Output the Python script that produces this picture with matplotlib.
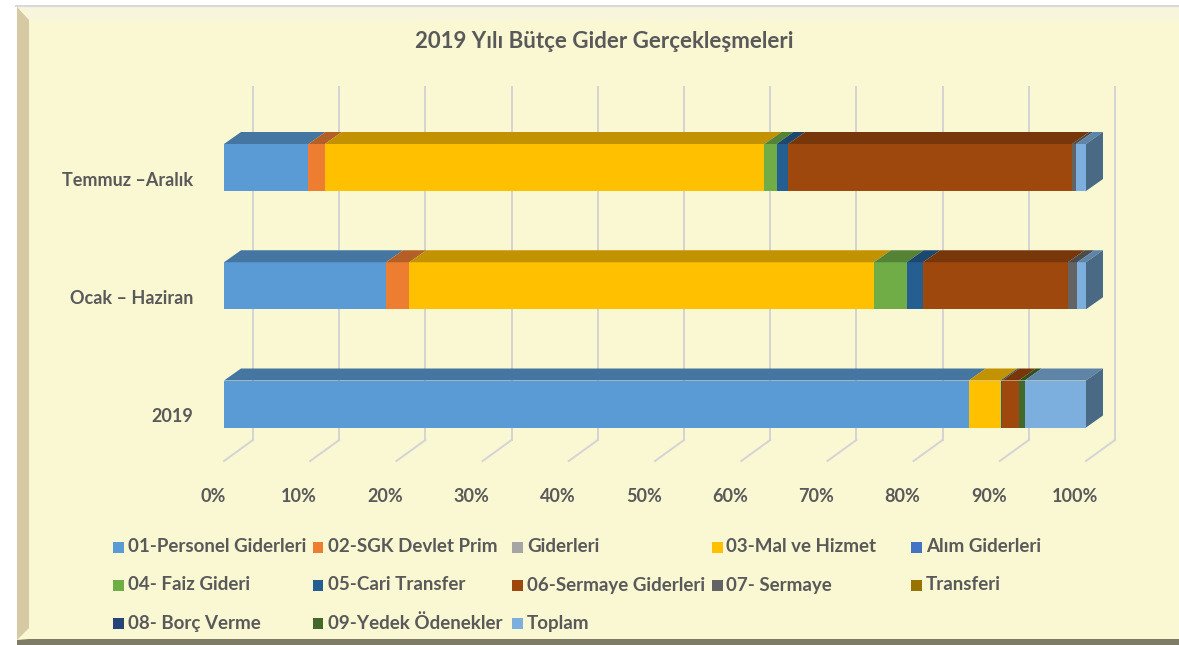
"""
2019 Yili Butce Gider Gerceklesmeleri - 3D style 100% stacked horizontal bars.
"""

import matplotlib
matplotlib.use('Agg')
import matplotlib.pyplot as plt
from matplotlib.patches import Polygon, Rectangle
from matplotlib.colors import to_rgb

W, H = 1179, 645

categories = ['2019', 'Ocak – Haziran', 'Temmuz –Aralık']

series_names = ['01-Personel Giderleri', '02-SGK Devlet Prim', 'Giderleri',
                '03-Mal ve Hizmet', 'Alım Giderleri', '04- Faiz Gideri',
                '05-Cari Transfer', '06-Sermaye Giderleri', '07- Sermaye',
                'Transferi', '08- Borç Verme', '09-Yedek Ödenekler', 'Toplam']

series_colors = ['#5B9BD5', '#ED7D31', '#A5A5A5', '#FFC000', '#4472C4',
                 '#70AD47', '#255E91', '#9E480E', '#636363', '#997300',
                 '#264478', '#43682B', '#7CAFDD']

# percent shares per row, in series order
vals_2019 = [86.4, 0, 0, 3.7, 0, 0, 0.2, 1.9, 0, 0, 0, 0.7, 7.1]
vals_ocak_haziran = [18.8, 2.7, 0, 53.9, 0, 3.8, 1.9, 16.8, 1.1, 0, 0, 0, 1.0]
vals_temmuz_aralik = [9.8, 1.9, 0, 51.0, 0, 1.4, 1.35, 32.95, 0.45, 0, 0, 0, 1.15]

row_values = [vals_2019, vals_ocak_haziran, vals_temmuz_aralik]
x_ticks = list(range(0, 101, 10))

TEXT = '#595959'
BG = '#FAF7D3'
FONT = 'Lato'


def shade(color, k):
    r, g, b = to_rgb(color)
    return (r * k, g * k, b * k)


def fx(px):
    return px / W


def fy(py):
    return 1 - py / H


fig = plt.figure(figsize=(W / 100, H / 100), dpi=100, facecolor='white')

# chart area frame with bevels
fig.patches.append(Rectangle((fx(17), fy(640)), fx(W) - fx(17), fy(7) - fy(640),
                             transform=fig.transFigure, facecolor=BG, edgecolor='none', zorder=-5))
fig.patches.append(Polygon([(fx(17), fy(7)), (fx(W), fy(7)), (fx(W), fy(20)), (fx(29), fy(20))],
                           closed=True, transform=fig.transFigure, facecolor='#F7F5DC',
                           edgecolor='none', zorder=-4))
fig.patches.append(Polygon([(fx(17), fy(7)), (fx(29), fy(20)), (fx(29), fy(628)), (fx(17), fy(640))],
                           closed=True, transform=fig.transFigure, facecolor='#D6C9A3',
                           edgecolor='none', zorder=-4))
fig.patches.append(Polygon([(fx(17), fy(640)), (fx(29), fy(639)), (fx(W), fy(639)), (fx(W), fy(645)),
                            (fx(17), fy(645))],
                           closed=True, transform=fig.transFigure, facecolor='#7E7B66',
                           edgecolor='none', zorder=-4))
fig.lines.append(plt.Line2D([fx(16), fx(W)], [fy(6), fy(6)], transform=fig.transFigure,
                            color='#D9D9D9', lw=1.5, zorder=-3))

# plot axes: 0% at x=224px, 100% at x=1086px; rows 118.25 px apart
row_px = 118.25
ax = fig.add_axes([fx(224), fy(404 + row_px / 2), 862 / W, 3 * row_px / H])
ax.set_zorder(2)
ax.set_xlim(0, 100)
ax.set_ylim(-0.5, 2.5)
ax.axis('off')
ax.patch.set_visible(False)

px_x = 8.62  # pixels per percent
bar_h = 47 / row_px
dx, dy = 17 / px_x, 12 / row_px          # bar depth
gx, gy = 29 / px_x, 21 / row_px          # wall offset
wall_bottom = -36 / row_px
wall_top = (404 - 87) / row_px

for t in x_ticks:
    ax.plot([t + gx, t + gx], [wall_bottom, wall_top], color='#D4D4D4', lw=1.4,
            zorder=1, clip_on=False)
    ax.plot([t, t + gx], [wall_bottom - gy, wall_bottom], color='#D4D4D4', lw=1.4,
            zorder=1, clip_on=False)
    ax.text(t - 11 / px_x, -(497 - 404) / row_px, f'{t}%', ha='center', va='center',
            fontsize=13, fontweight='bold', color=TEXT, family=FONT)

for yi, (cat, vals) in enumerate(zip(categories, row_values)):
    left = 0
    last_color = None
    top = yi + bar_h / 2
    for v, c in zip(vals, series_colors):
        if v <= 0:
            continue
        ax.barh(yi, v, left=left, height=bar_h, color=c, edgecolor='none', zorder=3)
        ax.add_patch(Polygon([(left, top), (left + v, top), (left + v + dx, top + dy),
                              (left + dx, top + dy)], closed=True,
                             facecolor=shade(c, 0.76), edgecolor='none', zorder=3,
                             clip_on=False))
        left += v
        last_color = c
    bot = yi - bar_h / 2
    ax.add_patch(Polygon([(left, bot), (left, top), (left + dx, top + dy), (left + dx, bot + dy)],
                         closed=True, facecolor=shade(last_color, 0.6), edgecolor='none',
                         zorder=3, clip_on=False))
    ax.text(-31 / px_x, yi - 12.5 / row_px, cat, ha='right', va='center', fontsize=13,
            fontweight='bold', color=TEXT, family=FONT)

fig.text(fx(604), fy(42), '2019 Yılı Bütçe Gider Gerçekleşmeleri', ha='center', va='center',
         fontsize=16, fontweight='bold', color=TEXT, family=FONT)

# legend laid out in Excel's fixed grid
for i, (name, c) in enumerate(zip(series_names, series_colors)):
    row, col = divmod(i, 5)
    x0 = 113 + 199.5 * col
    y0 = 547 + 38 * row
    fig.patches.append(Rectangle((fx(x0), fy(y0 + 5.5)), 11 / W, 11 / H,
                                 transform=fig.transFigure, facecolor=c, edgecolor='none'))
    fig.text(fx(x0 + 15), fy(y0), name, ha='left', va='center', fontsize=13.5,
             fontweight='bold', color=TEXT, family=FONT)

fig.savefig('out.png', dpi=100, facecolor='white')
